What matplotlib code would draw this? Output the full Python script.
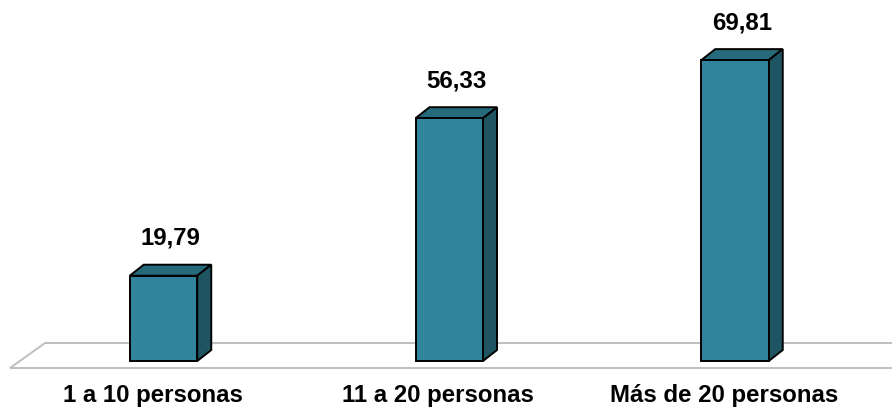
import matplotlib
matplotlib.use("Agg")
import matplotlib.pyplot as plt
from matplotlib.patches import Polygon
import numpy as np

categories = ["1 a 10 personas", "11 a 20 personas", "Más de 20 personas"]
values = [19.79, 56.33, 69.81]
value_labels = ["19,79", "56,33", "69,81"]

plt.rcParams['font.family'] = ['Liberation Sans', 'DejaVu Sans']

W, H, DPI = 892, 408, 100
fig = plt.figure(figsize=(W / DPI, H / DPI), dpi=DPI)
ax = fig.add_axes([0, 0, 1, 1])
ax.set_axis_off()

# axis scaling (pixel geometry of the reference)
px_per_x = 285.75
px_per_y = 4.31
x0_px = 163.5      # pixel x of first bar centre
base_px = 47       # pixel height of bar base from bottom
ax.set_xlim(-x0_px / px_per_x, (W - x0_px) / px_per_x)
ax.set_ylim(-base_px / px_per_y, (H - base_px) / px_per_y)

x = np.arange(len(categories))
bar_w = 67.5 / px_per_x

# depth offset in pixels
ddx, ddy = 14, 11

def to_px(pts):
    return ax.transData.transform(pts)

def to_data(pts):
    return ax.transData.inverted().transform(pts)

# floor
fl_front_y = -7 / px_per_y
left = to_px([(x[0] - 0.5 - 0.037, fl_front_y)])[0]
right = to_px([(x[-1] + 0.5 + 0.465, fl_front_y)])[0]
fdx, fdy = 35, 25
floor = np.array([left, right, right + [fdx, fdy], left + [fdx, fdy]])
ax.add_patch(Polygon(to_data(floor), closed=True, facecolor='white',
                     edgecolor='#BFBFBF', linewidth=1.4, zorder=1))

front_c = '#31849B'
top_c = '#266B7B'
side_c = '#1F5562'
edge_lw = 1.4

ax.bar(x, values, width=bar_w, bottom=0, color=front_c, edgecolor='black',
       linewidth=edge_lw, zorder=3)

for xi, v in zip(x, values):
    bl, br = to_px([(xi - bar_w / 2, v), (xi + bar_w / 2, v)])
    bb = to_px([(xi + bar_w / 2, 0)])[0]
    top = np.array([bl, br, br + [ddx, ddy], bl + [ddx, ddy]])
    side = np.array([bb, br, br + [ddx, ddy], bb + [ddx, ddy]])
    ax.add_patch(Polygon(to_data(top), closed=True, facecolor=top_c,
                         edgecolor='black', linewidth=edge_lw, zorder=2.5))
    ax.add_patch(Polygon(to_data(side), closed=True, facecolor=side_c,
                         edgecolor='black', linewidth=edge_lw, zorder=2.5))

for xi, v, lab in zip(x, values, value_labels):
    ax.annotate(lab, (xi, v), xytext=(7, 31), textcoords='offset pixels',
                ha='center', va='baseline', fontsize=17.3, fontweight='bold',
                color='black', zorder=5)

for xi, cat in zip(x, categories):
    ax.annotate(cat, (xi, 0), xytext=(-11, -41), textcoords='offset pixels',
                ha='center', va='baseline', fontsize=17.3, fontweight='bold',
                color='black', zorder=5)

fig.savefig("out.png", dpi=DPI, facecolor='white')
